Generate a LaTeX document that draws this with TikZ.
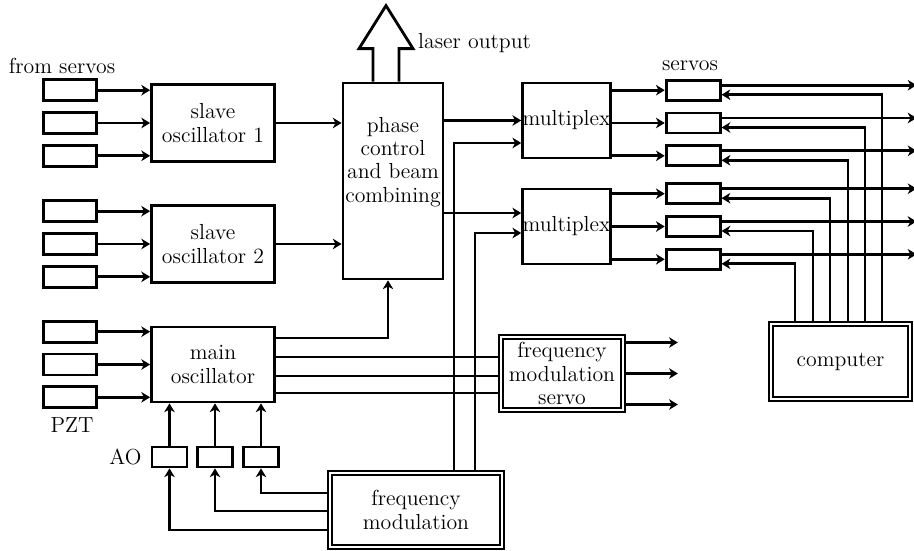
\documentclass[tikz,border=0pt]{standalone}
\usetikzlibrary{arrows.meta, positioning, calc}

\begin{document}
\begin{tikzpicture}[
        x=0.02cm, y=-0.02cm,
        font=\fontsize{12.4}{13.2}\selectfont,
        block/.style={rectangle, draw, line width=1.6pt, align=center,
                      minimum width=2.46cm, minimum height=1.54cm, inner sep=1pt},
        small/.style={rectangle, draw, line width=1.6pt, minimum width=1.06cm,
                      minimum height=0.42cm, inner sep=0pt},
        dblock/.style={rectangle, draw, line width=1pt, double, double distance=1.3pt,
                       align=center, inner sep=1pt},
        wire/.style={line width=1.6pt},
        arrow/.style={wire, -{Stealth[length=5pt, width=6pt, inset=1.5pt]}}
    ]
        \useasboundingbox (0,0) rectangle (914,551);

        \node[block] (slave1) at (213,123) {slave\\oscillator 1};
        \node[block] (slave2) at (213,244) {slave\\oscillator 2};
        \node[block, minimum height=1.5cm] (main) at (213,364.5) {main\\oscillator};
        \node[block, minimum width=2cm, minimum height=3.92cm] (phase) at (393,181) {};
        \node[align=center] (phasetxt) at (393,162) {phase\\control\\and beam\\combining};
        \node[block, minimum width=1.74cm, minimum height=1.5cm, inner sep=0pt] (mplex1) at (566.5,120.5) {multiplex};
        \node[block, minimum width=1.74cm, minimum height=1.5cm, inner sep=0pt] (mplex2) at (566.5,226.5) {multiplex};
        \node[dblock, minimum width=3.44cm, minimum height=1.48cm] (fm) at (416,510) {frequency\\modulation};
        \node[dblock, minimum width=2.44cm, minimum height=1.46cm] (fms) at (562,373.5) {frequency\\modulation\\servo};
        \node[dblock, minimum width=2.78cm, minimum height=1.5cm] (comp) at (840.5,361.5) {computer};

        % input boxes of the oscillators
        \foreach \osc/\n in {slave1/s, slave2/t, main/m} {
            \node[small, left=1.04cm of \osc] (\n2) {};
            \node[small, above=0.18cm of \n2] (\n1) {};
            \node[small, below=0.18cm of \n2] (\n3) {};
            \foreach \k in {1,2,3}
                \draw[arrow] (\n\k) -- (\n\k -| \osc.west);
        }

        % servos
        \node[small, minimum width=1.08cm, minimum height=0.4cm, right=1.06cm of mplex1, yshift=-0.05cm] (sv2) {};
        \node[small, minimum width=1.08cm, minimum height=0.4cm, above=0.2cm of sv2] (sv1) {};
        \node[small, minimum width=1.08cm, minimum height=0.4cm, below=0.2cm of sv2] (sv3) {};
        \node[small, minimum width=1.08cm, minimum height=0.4cm, right=1.06cm of mplex2] (sv5) {};
        \node[small, minimum width=1.08cm, minimum height=0.4cm, above=0.2cm of sv5] (sv4) {};
        \node[small, minimum width=1.08cm, minimum height=0.4cm, below=0.2cm of sv5] (sv6) {};

        % AO
        \node[small, minimum width=0.7cm, minimum height=0.4cm] (ao1) at (169.5,457) {};
        \node[small, minimum width=0.7cm, minimum height=0.4cm] (ao2) at (215,457) {};
        \node[small, minimum width=0.7cm, minimum height=0.4cm] (ao3) at (261,457) {};

        \node (fromsv) at (62,66) {from servos};
        \node (svlbl) at (690,66) {servos};
        \node (pzt) at (72,425) {PZT};
        \node[left=0.06cm of ao1] (aolbl) {AO};
        \node[anchor=west] (laserlbl) at (412,43) {laser output};

        % laser output
        \draw[wire, line join=miter] ($(phase.north)+(-20,0)$) -- ++(0,-33) -- ++(-14,0)
            -- ++(27,-43) -- ++(27,43) -- ++(-14,0) -- ++(0,33);

        \draw[arrow] (slave1) -- (slave1 -| phase.west);
        \draw[arrow] (slave2) -- (slave2 -| phase.west);
        \draw[arrow] ($(main.east)+(0,-26.5)$) -| ($(phase.south)+(-5,0)$);
        \foreach \dy in {-7.5, 11.5, 28.5} {
            \coordinate (o) at ($(main.east)+(0,\dy)$);
            \draw[wire] (o) -- (o -| fms.west);
        }
        \foreach \dy in {-31, 0, 31}
            \draw[arrow] ($(fms.east)+(0,\dy)$) -- ++(54,0);

        \foreach \a in {1,2,3}
            \draw[arrow] (ao\a.north) -- (ao\a.north |- main.south);
        \draw[arrow] ($(fm.west)+(0,-17)$) -| (ao3.south);
        \draw[arrow] ($(fm.west)+(0,1)$) -| (ao2.south);
        \draw[arrow] ($(fm.west)+(0,20)$) -| (ao1.south);

        \draw[arrow] ($(fm.north)+(38,0)$) |- ($(mplex1.west)+(0,22.5)$);
        \draw[arrow] ($(fm.north)+(59,0)$) |- ($(mplex2.west)+(0,6.5)$);
        \draw[arrow] (mplex1.west -| phase.east) -- (mplex1.west);
        \coordinate (pm2) at ($(phase.east)+(0,32)$);
        \draw[arrow] (pm2) -- (pm2 -| mplex2.west);

        \foreach \k in {1,2,3}
            \draw[arrow] (sv\k -| mplex1.east) -- (sv\k.west);
        \foreach \k in {4,5,6}
            \draw[arrow] (sv\k -| mplex2.east) -- (sv\k.west);

        \foreach \k in {1,...,6}
            \draw[arrow] ($(sv\k.east)+(0,-5)$) -- ++(195,0);
        \foreach \k/\dx in {1/41.5, 2/24.5, 3/7.5, 4/-10.5, 5/-27.5, 6/-45.5}
            \draw[arrow] ($(comp.north)+(\dx,0)$) |- ($(sv\k.east)+(0,4.5)$);
    \end{tikzpicture}
\end{document}
